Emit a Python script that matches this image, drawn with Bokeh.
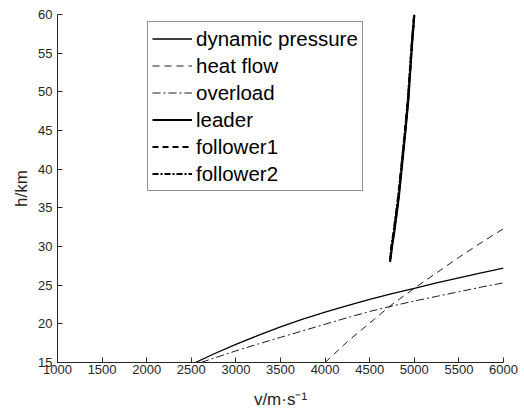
from bokeh.plotting import figure
from bokeh.models import Legend, LegendItem, FixedTicker, Range1d
from bokeh.embed import file_html
from bokeh.resources import INLINE

# ---- data ----
dp_v = [2547, 2750, 3000, 3250, 3500, 3750, 4000, 4250, 4500, 4750, 5000, 5250, 5500, 5750, 6000]
dp_h = [15.0, 16.1, 17.35, 18.5, 19.6, 20.6, 21.5, 22.35, 23.15, 23.9, 24.6, 25.3, 25.95, 26.6, 27.2]

hf_v = [4000, 4250, 4500, 4750, 5000, 5250, 5500, 5750, 6000]
hf_h = [15.0, 17.7, 20.1, 22.5, 24.6, 26.6, 28.6, 30.5, 32.3]

ov_v = [2610, 2750, 3000, 3250, 3500, 3750, 4000, 4250, 4500, 4750, 5000, 5250, 5500, 5750, 6000]
ov_h = [15.0, 15.55, 16.5, 17.4, 18.25, 19.1, 19.95, 20.8, 21.6, 22.3, 22.95, 23.55, 24.15, 24.75, 25.3]

leader_v = [4735, 4750, 4778, 4826, 4864, 4901, 4932, 4957, 4980, 5000]
leader_h = [28.6, 30.0, 32.1, 36.4, 40.7, 45.0, 48.9, 53.2, 57.0, 60.0]

f1_v = [4731, 4746, 4774, 4822, 4861, 4898, 4930, 4955, 4978, 4998]
f1_h = [28.3, 30.0, 32.1, 36.4, 40.7, 45.0, 48.9, 53.2, 57.0, 59.8]

f2_v = [4728, 4743, 4771, 4819, 4858, 4896, 4928, 4953, 4977, 4997]
f2_h = [28.0, 30.0, 32.1, 36.4, 40.7, 45.0, 48.9, 53.2, 57.0, 59.6]

x_ticks = [1000, 1500, 2000, 2500, 3000, 3500, 4000, 4500, 5000, 5500, 6000]
y_ticks = [15, 20, 25, 30, 35, 40, 45, 50, 55, 60]

FONT = "Liberation Sans"
TXT = "#262626"

p = figure(width=524, height=414, output_backend="svg", toolbar_location=None,
           x_range=Range1d(1000, 6000), y_range=Range1d(15, 60),
           min_border_left=57, min_border_right=21, min_border_top=14, min_border_bottom=52)
p.outline_line_color = None
p.background_fill_color = "white"
p.border_fill_color = "white"
p.xgrid.visible = False
p.ygrid.visible = False

r_dp = p.line(dp_v, dp_h, line_color="black", line_width=1.3)
r_hf = p.line(hf_v, hf_h, line_color="black", line_width=0.9, line_dash="7 5")
r_ov = p.line(ov_v, ov_h, line_color="black", line_width=0.9, line_dash="8 3 2 3")
r_ld = p.line(leader_v, leader_h, line_color="black", line_width=2.2)
r_f1 = p.line(f1_v, f1_h, line_color="black", line_width=2.2, line_dash="6 4")
r_f2 = p.line(f2_v, f2_h, line_color="black", line_width=2.2, line_dash="6 2 2 2")

for ax in (p.xaxis[0], p.yaxis[0]):
    ax.axis_line_color = TXT
    ax.axis_line_width = 1
    ax.major_tick_line_color = TXT
    ax.major_tick_in = 5
    ax.major_tick_out = 0
    ax.minor_tick_line_color = None
    ax.major_label_text_font = FONT
    ax.major_label_text_font_size = "13px"
    ax.major_label_text_color = TXT
    ax.axis_label_text_font = FONT
    ax.axis_label_text_font_size = "17px"
    ax.axis_label_text_font_style = "normal"
    ax.axis_label_text_color = TXT

p.xaxis.ticker = FixedTicker(ticks=x_ticks)
p.yaxis.ticker = FixedTicker(ticks=y_ticks)
p.xaxis.axis_label = "v/m·s⁻¹"
p.yaxis.axis_label = "h/km"
p.xaxis.major_label_standoff = 2
p.yaxis.major_label_standoff = 5
p.xaxis.axis_label_standoff = 13
p.yaxis.axis_label_standoff = 4

legend = Legend(items=[
    LegendItem(label="dynamic pressure", renderers=[r_dp]),
    LegendItem(label="heat flow", renderers=[r_hf]),
    LegendItem(label="overload", renderers=[r_ov]),
    LegendItem(label="leader", renderers=[r_ld]),
    LegendItem(label="follower1", renderers=[r_f1]),
    LegendItem(label="follower2", renderers=[r_f2]),
], location=(90, 171))
legend.label_text_font = FONT
legend.label_text_font_size = "20.5px"
legend.label_text_color = "black"
legend.glyph_width = 40
legend.glyph_height = 25
legend.label_height = 25
legend.label_standoff = 4
legend.spacing = 2
legend.padding = 4
legend.margin = 0
legend.border_line_color = TXT
legend.border_line_width = 1
legend.background_fill_alpha = 1
p.add_layout(legend, "center")

open("out.html", "w").write(file_html(p, INLINE))
